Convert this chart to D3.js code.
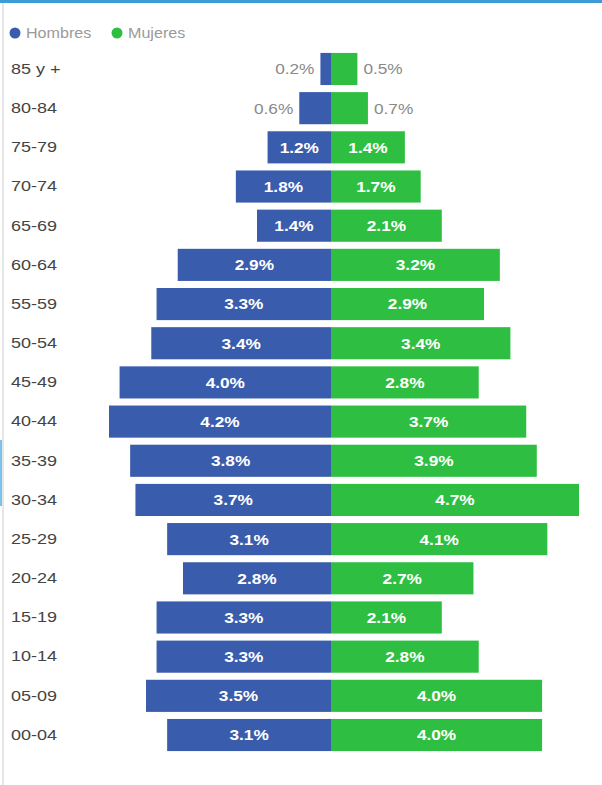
<!DOCTYPE html>
<html><head><meta charset="utf-8">
<script src="https://cdn.jsdelivr.net/npm/d3@7"></script>
<style>body{margin:0;background:#fff;}svg{display:block;}</style>
</head><body>
<svg id="c" width="602" height="785"></svg>
<script>
const categories = ["85 y +","80-84","75-79","70-74","65-69","60-64","55-59","50-54","45-49","40-44","35-39","30-34","25-29","20-24","15-19","10-14","05-09","00-04"];
const hombres = [0.2,0.6,1.2,1.8,1.4,2.9,3.3,3.4,4.0,4.2,3.8,3.7,3.1,2.8,3.3,3.3,3.5,3.1];
const mujeres = [0.5,0.7,1.4,1.7,2.1,3.2,2.9,3.4,2.8,3.7,3.9,4.7,4.1,2.7,2.1,2.8,4.0,4.0];
const seriesNames = ["Hombres","Mujeres"];
const colors = ["#3a5cad","#2ebf42"];

const svg = d3.select("#c");
const W = 602, H = 785;
const cx = 331;
const font = "'Liberation Sans', Arial, sans-serif";
const SX = 1.15;

// frame
svg.append("rect").attr("x",0).attr("y",0).attr("width",W).attr("height",3).attr("fill","#3d9bd6");
svg.append("rect").attr("x",2).attr("y",3).attr("width",2).attr("height",H-3).attr("fill","#e6e6e6");
svg.append("rect").attr("x",0).attr("y",440).attr("width",2).attr("height",66).attr("fill","#7cc3ec");

const y = d3.scaleBand().domain(categories).range([49.4, 754.6]).paddingInner(0.18).paddingOuter(0.09);
const xL = d3.scaleLinear().domain([0, 4.2]).range([cx, 109]);
const xR = d3.scaleLinear().domain([0, 4.7]).range([cx, 579]);

const fmt = v => v.toFixed(1) + "%";
const g = svg.append("g");

g.selectAll("rect.h").data(hombres).join("rect").attr("class","h")
  .attr("x", d => xL(d)).attr("y", (d,i) => y(categories[i]))
  .attr("width", d => cx - xL(d)).attr("height", y.bandwidth())
  .attr("fill", colors[0]);
g.selectAll("rect.m").data(mujeres).join("rect").attr("class","m")
  .attr("x", cx).attr("y", (d,i) => y(categories[i]))
  .attr("width", d => xR(d) - cx).attr("height", y.bandwidth())
  .attr("fill", colors[1]);

const inside = v => v >= 1.0;
function labels(cls, data, xs, side) {
  g.selectAll("text."+cls).data(data).join("text").attr("class",cls)
    .attr("transform", (d,i) => {
      const px = inside(d) ? (xs(d)+cx)/2 : xs(d) + side*6;
      const py = y(categories[i]) + y.bandwidth()/2;
      return `translate(${px},${py}) scale(${SX},1)`;
    })
    .attr("dy","0.36em")
    .attr("text-anchor", d => inside(d) ? "middle" : (side < 0 ? "end" : "start"))
    .attr("font-family", font).attr("font-size", 15)
    .attr("font-weight", d => inside(d) ? "bold" : "normal")
    .attr("fill", d => inside(d) ? "#ffffff" : "#8a8a8a")
    .text(fmt);
}
labels("h", hombres, xL, -1);
labels("m", mujeres, xR, 1);

// category axis
const axis = d3.axisLeft(y).tickSize(0).tickPadding(0);
const ax = svg.append("g").attr("transform","translate(11,0)").call(axis);
ax.select(".domain").remove();
ax.selectAll("text").attr("text-anchor","start").attr("x",0)
  .attr("transform", `scale(${SX+0.05},1)`)
  .attr("font-family", font).attr("font-size", 15).attr("fill","#444");

// legend
const leg = svg.append("g");
const legX = [15, 117];
seriesNames.forEach((n,i) => {
  leg.append("circle").attr("cx", legX[i]).attr("cy", 33).attr("r", 5.5).attr("fill", colors[i]);
  leg.append("text").attr("transform", `translate(${legX[i]+11},33) scale(${SX},1)`).attr("dy","0.35em")
    .attr("font-family", font).attr("font-size", 14).attr("fill","#9a9a9a").text(n);
});
</script>
</body></html>
